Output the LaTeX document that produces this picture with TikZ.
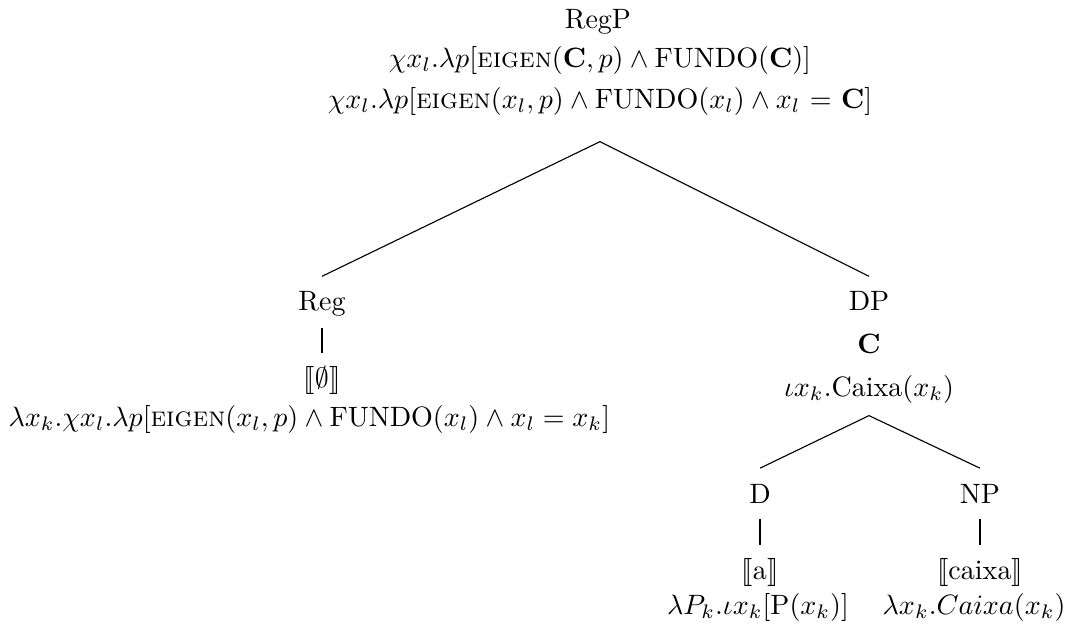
\documentclass[tikz,border=0pt]{standalone}
\usepackage{stmaryrd}
\begin{document}
\begin{tikzpicture}[x=.357pt,y=-.357pt,every node/.style={inner sep=0pt,anchor=base}]
\useasboundingbox(0,0)rectangle(1075,628);
\node(RegP)at(598,28){RegP};
\node(SemA)at(600,67){$\chi x_l.\lambda p[\textsc{eigen}(\mathbf{C},p)\wedge\mathrm{FUNDO}(\mathbf{C})]$};
\node(SemB)at(600,108){$\chi x_l.\lambda p[\textsc{eigen}(x_l,p)\wedge\mathrm{FUNDO}(x_l)\wedge x_l$ = $\mathbf{C}$]};
\node(Reg)at(322,310){Reg};\node(Empty)at(322,387){$\llbracket\emptyset\rrbracket$};
\node[anchor=base west](RegSem)at(8,426){$\lambda x_k.\chi x_l.\lambda p[\textsc{eigen}(x_l,p)\wedge\mathrm{FUNDO}(x_l)\wedge x_l=x_k]$};
\node(DP)at(869,310){DP};\node(DPC)at(869,353){$\mathbf{C}$};
\node(DPSem)at(869,396){$\iota x_k$.Caixa($x_k$)};
\node(D)at(760,503){D};\node(A)at(760,579){$\llbracket$a$\rrbracket$};
\node(DSem)at(758,614){$\lambda P_k.\iota x_k[\mathrm{P}(x_k)]$};
\node(NP)at(980,503){NP};\node(Caixa)at(980,579){$\llbracket$caixa$\rrbracket$};
\node[anchor=base east](NPSem)at(1066,614){$\lambda x_k.Caixa(x_k)$};
% branches
\foreach\a/\b/\s/\t in{SemB/Reg/9.3/5,SemB/DP/9.3/5,DPSem/D/4.3/5.4,DPSem/NP/4.3/5.4}{\draw([yshift=-\s pt]\a.south)--([yshift=\t pt]\b.north);}
\foreach\a/\b/\s/\t in{Reg/Empty/4.1/4.6,D/A/5.4/4.3,NP/Caixa/5.4/4.3}{\draw([yshift=-\s pt]\a.south)--([yshift=\t pt]\b.north);}
\end{tikzpicture}
\end{document}
